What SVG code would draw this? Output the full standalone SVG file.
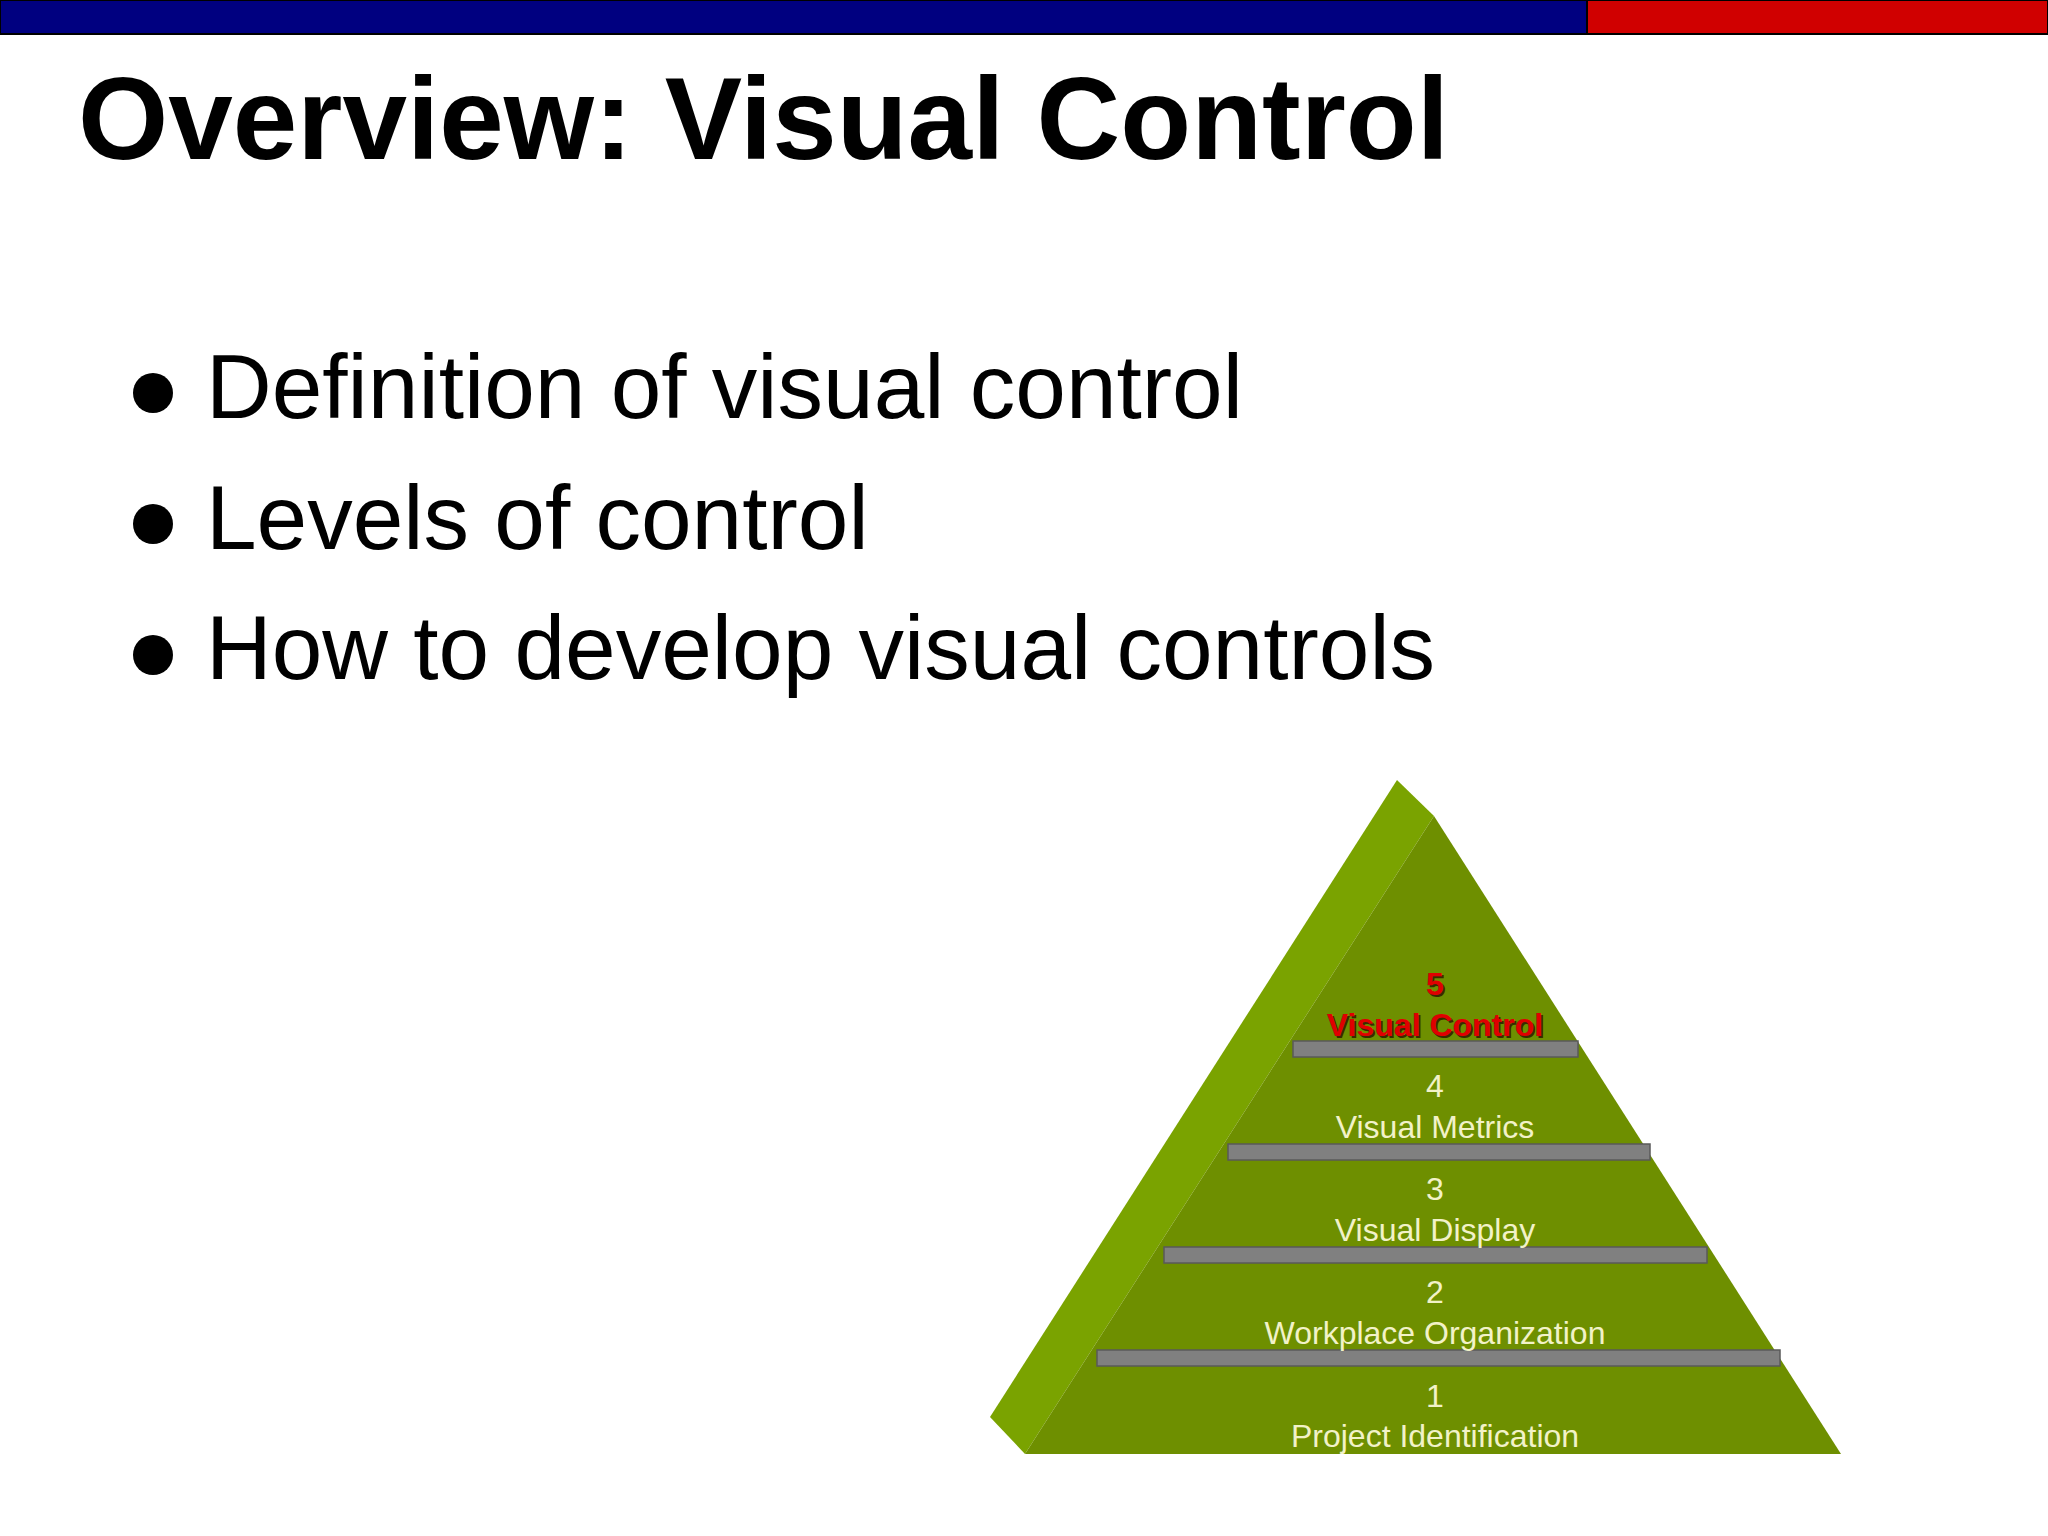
<svg xmlns="http://www.w3.org/2000/svg" width="2048" height="1536" viewBox="0 0 2048 1536">
<style>
.lbl{font-family:"Liberation Sans",Arial,sans-serif;font-size:32px;fill:#f2f2c8;text-anchor:middle}
.red{font-family:"Liberation Sans",Arial,sans-serif;font-size:32px;font-weight:bold;fill:#e00000;text-anchor:middle}
.sh{font-family:"Liberation Sans",Arial,sans-serif;font-size:32px;font-weight:bold;fill:#3a2a00;text-anchor:middle}
.bul{font-family:"Liberation Sans",Arial,sans-serif;font-size:91px;fill:#000}
.bar{fill:#808080;stroke:#5a5a5a;stroke-width:1.5}
</style>
<rect width="2048" height="1536" fill="#fff"/>
<g id="header">
<rect x="0" y="0" width="1587" height="34" fill="#000080" stroke="#000" stroke-width="2"/>
<rect x="1587" y="0" width="461" height="34" fill="#d00000" stroke="#000" stroke-width="2"/>
</g>
<text id="title" x="78" y="159" font-family="Liberation Sans,Arial,sans-serif" font-weight="bold" font-size="116" fill="#000">Overview: Visual Control</text>
<g id="bullets">
<circle cx="153" cy="393" r="20" fill="#000"/>
<text class="bul" x="206" y="418">Definition of visual control</text>
<circle cx="153" cy="524" r="20" fill="#000"/>
<text class="bul" x="206" y="549">Levels of control</text>
<circle cx="153" cy="655" r="20" fill="#000"/>
<text class="bul" x="206" y="679">How to develop visual controls</text>
</g>
<g id="pyramid">
<polygon points="1397,780 1434,816 1025,1454 990,1417" fill="#7aa300"/>
<polygon points="1434,816 1841,1454 1025,1454" fill="#6e8f00"/>
<rect class="bar" x="1293" y="1041" width="285" height="16"/>
<rect class="bar" x="1228" y="1144" width="422" height="16"/>
<rect class="bar" x="1164" y="1247" width="543" height="16"/>
<rect class="bar" x="1097" y="1350" width="683" height="16"/>
</g>
<g id="labels">
<text class="sh" x="1437" y="997">5</text>
<text class="red" x="1435" y="995">5</text>
<text class="sh" x="1437" y="1038">Visual Control</text>
<text class="red" x="1435" y="1036">Visual Control</text>
<text class="lbl" x="1435" y="1097">4</text>
<text class="lbl" x="1435" y="1138">Visual Metrics</text>
<text class="lbl" x="1435" y="1200">3</text>
<text class="lbl" x="1435" y="1241">Visual Display</text>
<text class="lbl" x="1435" y="1303">2</text>
<text class="lbl" x="1435" y="1344">Workplace Organization</text>
<text class="lbl" x="1435" y="1407">1</text>
<text class="lbl" x="1435" y="1447">Project Identification</text>
</g>
<g id="connectors"/>
</svg>
